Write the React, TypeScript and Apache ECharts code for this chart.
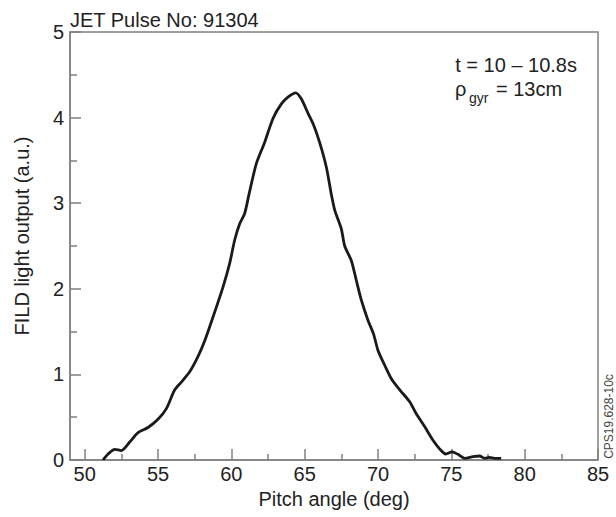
import React, { useEffect, useRef } from "react";
import * as echarts from "echarts";

const pitchAngle = [
  51.25, 51.6, 52.05, 52.5, 53.07, 53.64, 54.32, 55.0, 55.57, 56.14, 56.59, 57.16,
  57.73, 58.2, 58.75, 59.43, 59.89, 60.23, 60.57, 60.91, 61.2, 61.7, 62.27, 62.84,
  63.41, 63.86, 64.39, 64.77, 65.23, 65.57, 66.02, 66.48, 66.8, 67.05, 67.5, 67.73,
  68.18, 68.52, 68.86, 69.32, 69.7, 70.0, 70.45, 70.91, 71.48, 72.16, 72.61, 73.18,
  73.75, 74.2, 74.62, 75.05, 75.45, 75.91, 76.48, 76.93, 77.27, 77.6, 77.95, 78.4,
];
const lightOutput = [
  0.0, 0.07, 0.125, 0.11, 0.21, 0.32, 0.38, 0.475, 0.6, 0.82, 0.91, 1.03,
  1.21, 1.4, 1.67, 2.02, 2.3, 2.57, 2.76, 2.88, 3.1, 3.46, 3.71, 3.99,
  4.16, 4.24, 4.29, 4.22, 4.05, 3.93, 3.71, 3.42, 3.12, 2.92, 2.7, 2.5,
  2.33, 2.1, 1.87, 1.63, 1.47, 1.28, 1.11, 0.95, 0.82, 0.68, 0.54, 0.39,
  0.23, 0.13, 0.07, 0.095, 0.066, 0.02, 0.04, 0.047, 0.02, 0.03, 0.02, 0.02,
];
const xMajorTicks = [50, 55, 60, 65, 70, 75, 80, 85];
const xMinorTicks = [52.5, 57.5, 62.5, 67.5, 72.5, 77.5, 82.5];

const FONT = '"Liberation Sans", Arial, sans-serif';
const AXIS_COLOR = "#808080";
const TEXT_COLOR = "#222";

export default function App() {
  const ref = useRef<HTMLDivElement>(null);
  useEffect(() => {
    const chart = echarts.init(ref.current, null, { renderer: "svg" });
    const data = pitchAngle.map((x, i) => [x, lightOutput[i]]);
    chart.setOption({
      animation: false,
      backgroundColor: "#fff",
      grid: {
        left: 70,
        right: 18,
        top: 32,
        bottom: 57,
        show: true,
        borderColor: AXIS_COLOR,
        borderWidth: 1.5,
      },
      xAxis: [
        {
          type: "value",
          min: 49,
          max: 85,
          position: "bottom",
          name: "Pitch angle (deg)",
          nameLocation: "middle",
          nameGap: 28,
          nameTextStyle: { fontSize: 20, fontFamily: FONT, color: TEXT_COLOR },
          axisLine: { show: true, lineStyle: { color: AXIS_COLOR, width: 1.5 } },
          axisTick: {
            show: true,
            inside: true,
            length: 11,
            customValues: xMajorTicks,
            lineStyle: { color: AXIS_COLOR, width: 1.5 },
          },
          axisLabel: {
            customValues: xMajorTicks,
            fontSize: 20,
            fontFamily: FONT,
            color: TEXT_COLOR,
            margin: 4,
          },
          splitLine: { show: false },
        },
        {
          type: "value",
          min: 49,
          max: 85,
          position: "bottom",
          axisLine: { show: false },
          axisTick: {
            show: true,
            inside: true,
            length: 6,
            customValues: xMinorTicks,
            lineStyle: { color: AXIS_COLOR, width: 1.5 },
          },
          axisLabel: { show: false, customValues: xMinorTicks },
          splitLine: { show: false },
        },
      ],
      yAxis: {
        type: "value",
        min: 0,
        max: 5,
        interval: 1,
        name: "FILD light output (a.u.)",
        nameLocation: "middle",
        nameGap: 38,
        nameTextStyle: {
          fontSize: 20,
          fontFamily: FONT,
          color: TEXT_COLOR,
          padding: [0, 0, 0, 20],
        },
        axisLine: { show: true, lineStyle: { color: AXIS_COLOR, width: 1.5 } },
        axisTick: {
          show: true,
          inside: true,
          length: 11,
          lineStyle: { color: AXIS_COLOR, width: 1.5 },
        },
        minorTick: {
          show: true,
          splitNumber: 2,
          length: 7,
          lineStyle: { color: AXIS_COLOR, width: 1.5 },
        },
        axisLabel: { fontSize: 20, fontFamily: FONT, color: TEXT_COLOR, margin: 6 },
        splitLine: { show: false },
        minorSplitLine: { show: false },
      },
      series: [
        {
          type: "line",
          xAxisIndex: 0,
          data,
          showSymbol: false,
          smooth: 0.25,
          lineStyle: { color: "#1a1a1a", width: 2.8 },
        },
      ],
      graphic: [
        {
          type: "text",
          x: 70,
          y: 20,
          style: {
            text: "JET Pulse No: 91304",
            fontSize: 20,
            fontFamily: FONT,
            fill: TEXT_COLOR,
            align: "left",
            verticalAlign: "middle",
          },
        },
        {
          type: "text",
          x: 577,
          y: 65,
          style: {
            text: "t = 10 \u2013 10.8s",
            fontSize: 20,
            fontFamily: FONT,
            fill: TEXT_COLOR,
            align: "right",
            verticalAlign: "middle",
          },
        },
        {
          type: "text",
          x: 455,
          y: 89,
          style: {
            text: "\u03c1",
            fontSize: 20,
            fontFamily: FONT,
            fill: TEXT_COLOR,
            align: "left",
            verticalAlign: "middle",
          },
        },
        {
          type: "text",
          x: 469,
          y: 98,
          style: {
            text: "gyr",
            fontSize: 14,
            fontFamily: FONT,
            fill: TEXT_COLOR,
            align: "left",
            verticalAlign: "middle",
          },
        },
        {
          type: "text",
          x: 496,
          y: 89,
          style: {
            text: "= 13cm",
            fontSize: 20,
            fontFamily: FONT,
            fill: TEXT_COLOR,
            align: "left",
            verticalAlign: "middle",
          },
        },
        {
          type: "text",
          x: 608.5,
          y: 416.5,
          rotation: Math.PI / 2,
          style: {
            text: "CPS19.628-10c",
            fontSize: 12,
            fontFamily: FONT,
            fill: "#444",
            align: "center",
            verticalAlign: "middle",
          },
        },
      ],
    });
    return () => chart.dispose();
  }, []);
  return (
    <div
      ref={ref}
      style={{ position: "fixed", left: 0, top: 0, width: 616, height: 517, background: "#fff" }}
    />
  );
}
